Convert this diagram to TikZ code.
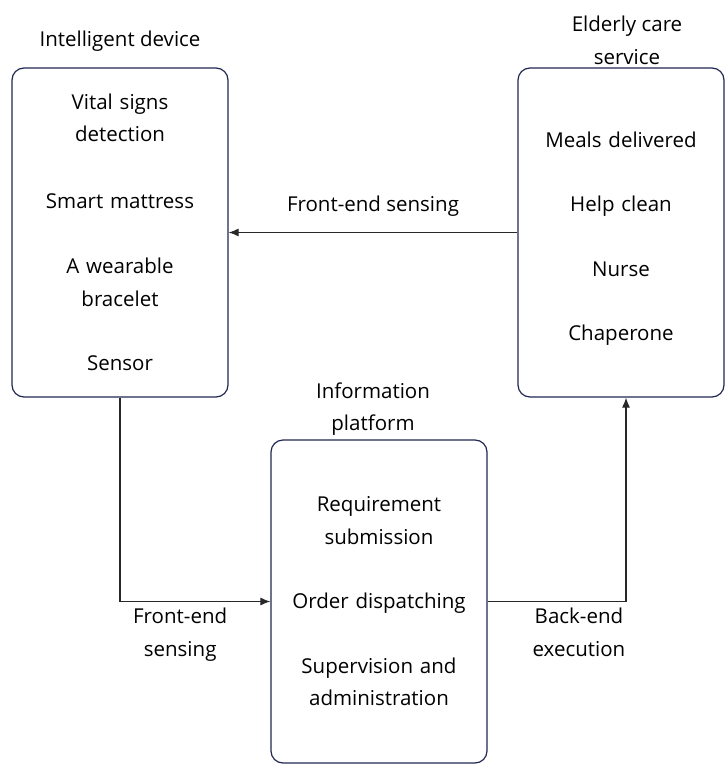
\documentclass[tikz,border=0pt]{standalone}
\usepackage{fontspec}
\setmainfont{Open Sans}
\usetikzlibrary{shapes, arrows, arrows.meta}
\definecolor{boxline}{RGB}{32,38,82}
\definecolor{arrowline}{RGB}{40,40,40}
\tikzstyle{block} = [rectangle, draw=boxline, line width=1.2pt, rounded corners=12pt,
align=center, text width=190pt, minimum width=216pt, minimum height=329pt, font=\fontsize{20.5}{32.5}\selectfont]
\tikzstyle{title} = [align=center, inner sep=0pt, font=\fontsize{20.5}{32.5}\selectfont]
\tikzstyle{line} = [draw=arrowline, line width=1.1pt, -{Latex[length=10pt, width=8pt]}]
\begin{document}
\begin{tikzpicture}[x=1pt, y=-1pt]
	\useasboundingbox (0,0) rectangle (726,765);
	
	% Place nodes
	\node [block] (device) at (120,232.5) {Vital signs\\detection\\[34pt]Smart mattress\\[33pt]A wearable\\bracelet\\[32pt]Sensor};
	\node [block, minimum width=206pt] (care) at (621,232.5) {\rule{0pt}{27pt}Meals delivered\\[32pt]Help clean\\[32pt]Nurse\\[31.5pt]Chaperone};
	\node [block, minimum height=323pt] (info) at (379,601.5) {Requirement\\submission\\[32pt]Order dispatching\\[32pt]Supervision and\\administration};
	\node [title] (device title) at (120,41) {Intelligent device};
	\node [title] (care title) at (627,40.5) {Elderly care\\service};
	\node [title] (info title) at (373,409) {Information\\platform};
	
	%Draw edges
	\path [line] (care) -- node [above, title, yshift=16pt] {Front-end sensing} (device);
	\path [line] (device.south) |- node [below, title, pos=0.7, yshift=-6pt] {Front-end\\sensing} (info.west);
	\path [line] (info.east) -| node [below, title, pos=0.33, yshift=-6pt] {Back-end\\execution} ([xshift=5pt]care.south);
	
\end{tikzpicture}
\end{document}
